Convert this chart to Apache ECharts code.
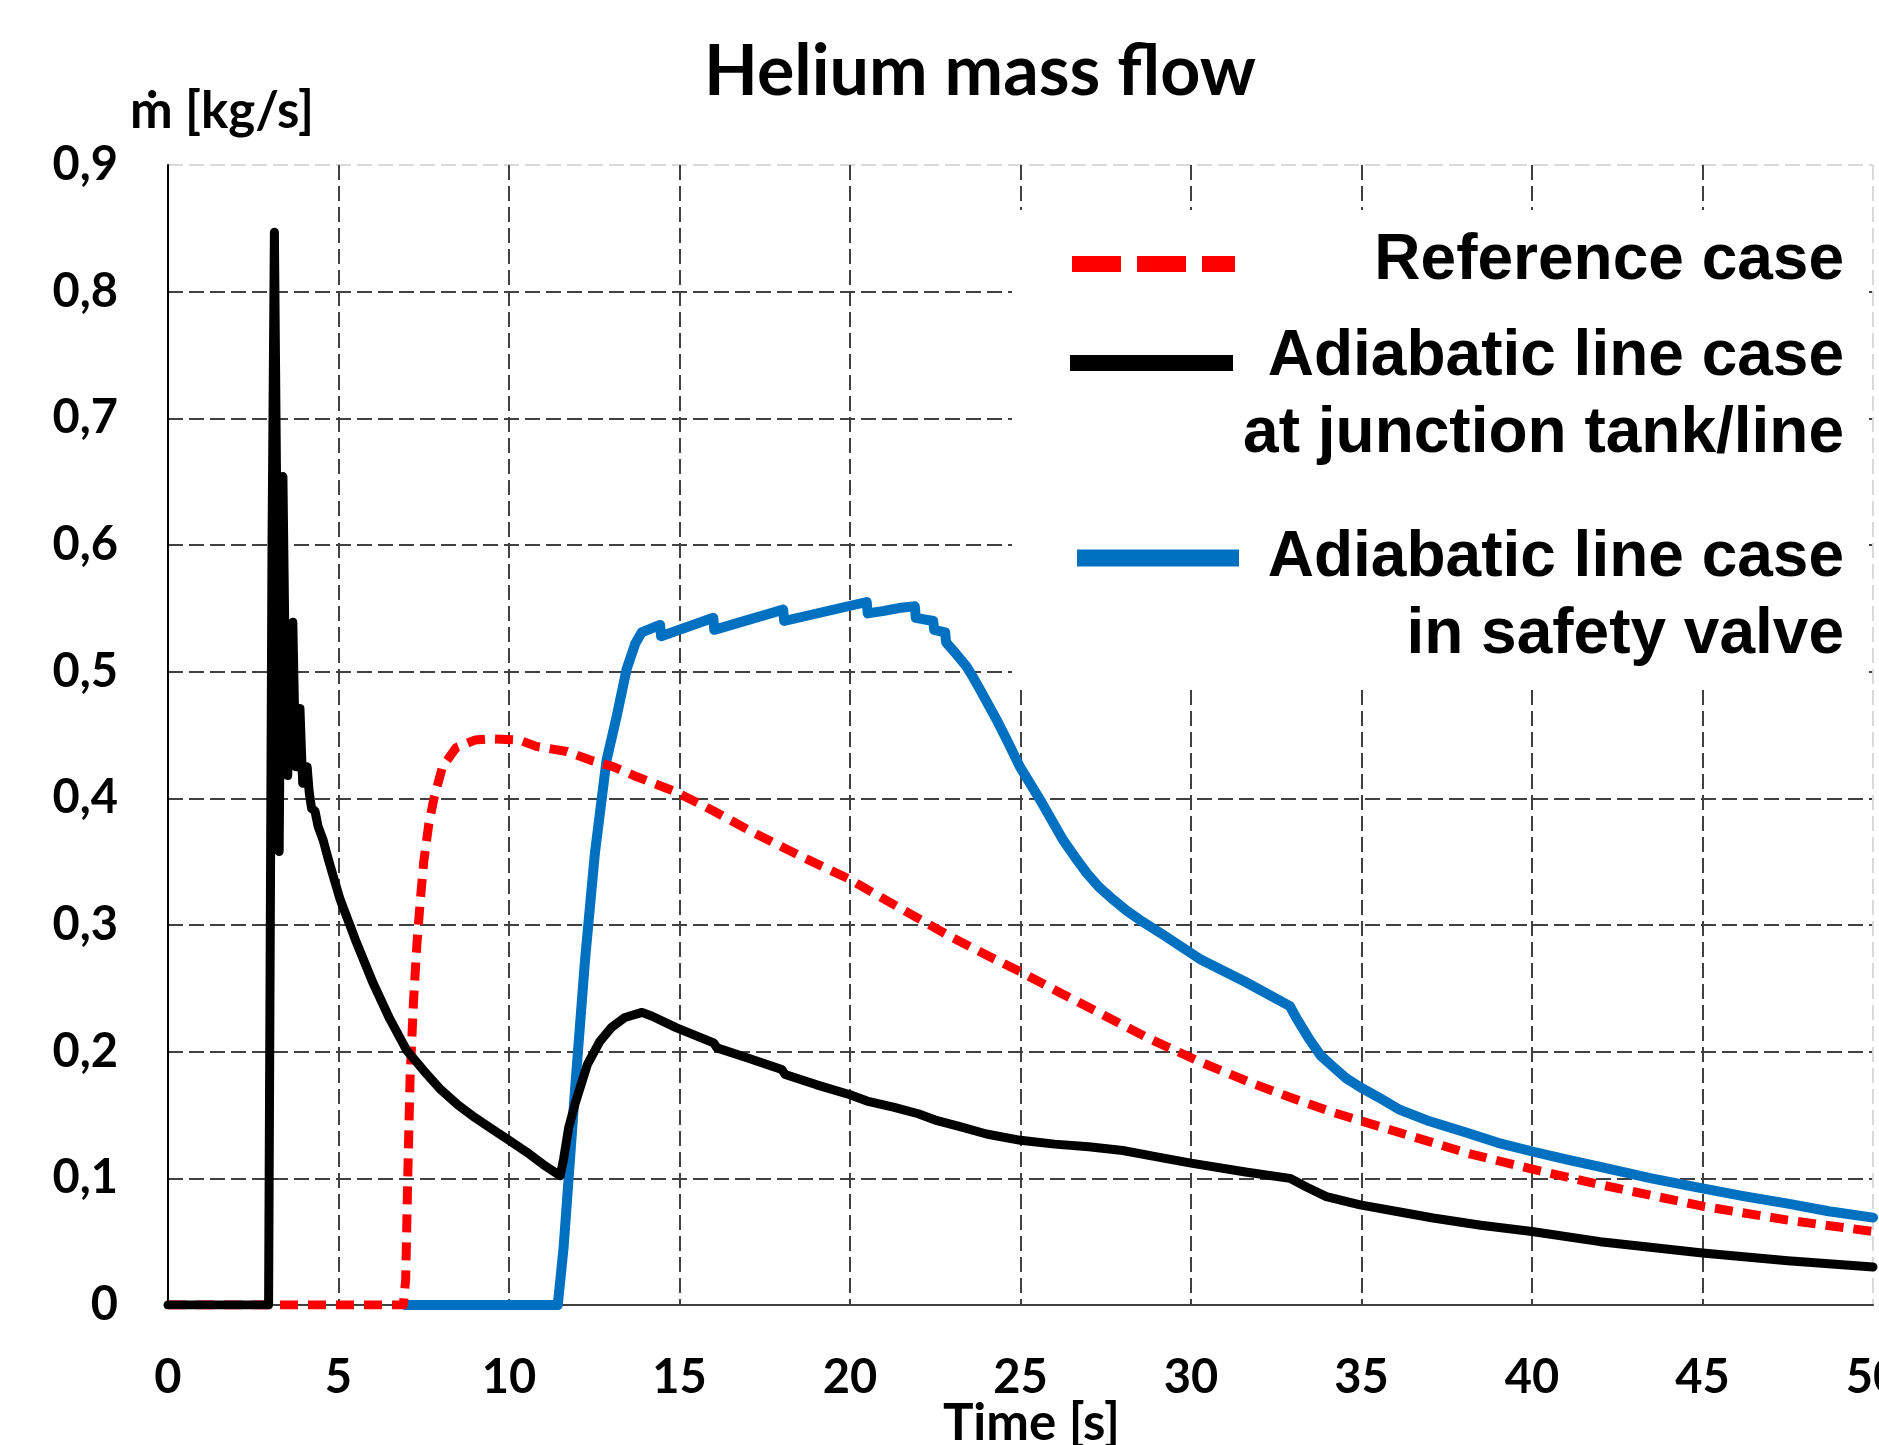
<!DOCTYPE html>
<html>
<head>
<meta charset="utf-8">
<script src="https://cdn.jsdelivr.net/npm/echarts@6/dist/echarts.min.js"></script>
<style>
html,body{margin:0;padding:0;background:#fff;}
#chart{width:1879px;height:1445px;}
</style>
</head>
<body>
<div id="chart"></div>
<script>
// ---- data (time [s], mass flow [kg/s]) ----
const seriesNames = ['Reference case', 'Adiabatic line case\nat junction tank/line', 'Adiabatic line case\nin safety valve'];
const yTickLabels = ['0','0,1','0,2','0,3','0,4','0,5','0,6','0,7','0,8','0,9'];
const xTickLabels = ['0','5','10','15','20','25','30','35','40','45','50'];

const referenceCase = [[0,0],[6.9,0],[6.97,0.02],[7.03,0.1],[7.1,0.18],[7.2,0.24],[7.3,0.285],[7.4,0.32],[7.5,0.35],[7.65,0.38],[7.8,0.40],[8.05,0.425],[8.45,0.44],[9.0,0.446],[9.5,0.447],[10.3,0.446],[10.8,0.441],[11.7,0.437],[12.4,0.430],[13.05,0.425],[13.75,0.417],[14.9,0.405],[16,0.39],[17.16,0.373],[18.5,0.355],[20,0.336],[20.9,0.322],[21.95,0.306],[23,0.29],[24.1,0.275],[25,0.263],[26.2,0.246],[27.5,0.228],[28.8,0.21],[30.26,0.192],[31.8,0.175],[33,0.163],[34.17,0.152],[36.13,0.136],[38.09,0.12],[40.04,0.107],[42,0.095],[45,0.078],[47.5,0.067],[50,0.058]];

const junctionCase = [[0,0],[2.95,0],[3.05,0.60],[3.12,0.847],[3.2,0.60],[3.26,0.358],[3.3,0.5],[3.37,0.654],[3.44,0.5],[3.51,0.418],[3.58,0.48],[3.66,0.539],[3.71,0.47],[3.75,0.425],[3.81,0.45],[3.87,0.471],[3.91,0.44],[3.95,0.412],[4.02,0.42],[4.08,0.425],[4.14,0.405],[4.21,0.392],[4.31,0.39],[4.4,0.378],[4.55,0.367],[4.7,0.352],[4.84,0.339],[5.05,0.32],[5.5,0.288],[6,0.255],[6.5,0.226],[7,0.201],[7.5,0.185],[8,0.17],[8.5,0.158],[9,0.148],[9.5,0.139],[10,0.13],[10.5,0.121],[11,0.111],[11.5,0.102],[11.6,0.115],[11.75,0.14],[11.95,0.16],[12.3,0.19],[12.66,0.208],[13.0,0.219],[13.4,0.227],[13.9,0.231],[14.2,0.228],[14.9,0.219],[16,0.207],[16.1,0.203],[17,0.195],[18,0.186],[18.1,0.182],[19,0.174],[20,0.166],[20.5,0.161],[21.3,0.156],[22,0.151],[22.5,0.146],[23.2,0.141],[24,0.135],[25,0.130],[26,0.127],[27,0.125],[28,0.122],[29,0.117],[30,0.112],[31.6,0.105],[32.9,0.100],[33.4,0.093],[33.97,0.0856],[34.96,0.079],[36,0.074],[37.1,0.0687],[38.5,0.063],[40,0.058],[42,0.050],[45,0.041],[47.5,0.035],[50,0.030]];

const safetyValveCase = [[6.95,0],[11.43,0],[11.6,0.045],[11.95,0.175],[12.23,0.2725],[12.52,0.357],[12.86,0.43],[13.16,0.465],[13.45,0.502],[13.7,0.522],[13.89,0.531],[14.43,0.537],[14.46,0.528],[15.99,0.5425],[16.02,0.533],[18.04,0.549],[18.07,0.540],[20.49,0.555],[20.52,0.546],[21.0,0.548],[21.5,0.5505],[21.9,0.5516],[21.93,0.5425],[22.44,0.540],[22.47,0.533],[22.79,0.531],[22.82,0.523],[23.08,0.515],[23.42,0.504],[23.6,0.496],[23.81,0.486],[24.3,0.462],[24.6,0.446],[24.98,0.425],[25.57,0.399],[26.25,0.367],[26.6,0.3535],[26.94,0.341],[27.3,0.330],[27.72,0.32],[28.1,0.3115],[28.5,0.304],[29.2,0.292],[30.3,0.2725],[31.6,0.255],[32.9,0.236],[33.1,0.226],[33.49,0.209],[33.8,0.197],[34.17,0.188],[34.55,0.179],[34.96,0.172],[35.5,0.164],[36.13,0.154],[37,0.145],[38.09,0.136],[39,0.128],[40.04,0.121],[41,0.115],[42,0.109],[43.5,0.100],[45,0.092],[46.2,0.086],[47.5,0.08],[48.7,0.074],[50,0.069]];

// ---- styling ----
const RED = '#FF0000', BLACK = '#000000', BLUE = '#0070C0';
const GRIDC = '#404040', LIGHT = '#d9d9d9';
const LBL = {fontFamily: 'Lato', fontWeight: 'bold', color: '#000'};
const LEG = {fontFamily: 'Liberation Sans', fontWeight: 'bold', fontSize: 64, fill: '#000', align: 'right', verticalAlign: 'middle'};

const chart = echarts.init(document.getElementById('chart'), null, {renderer: 'canvas'});

const xColors = xTickLabels.map((_, i) => i === xTickLabels.length - 1 ? LIGHT : GRIDC);
const yColors = yTickLabels.map((_, i) => i === yTickLabels.length - 1 ? LIGHT : GRIDC);

const legendItems = [
  {type: 'rect', shape: {x: 1012, y: 210, width: 854, height: 477}, style: {fill: '#fff'}},
  {type: 'line', shape: {x1: 1072, y1: 264, x2: 1235, y2: 264}, style: {stroke: RED, lineWidth: 16, lineDash: [49, 16]}},
  {type: 'line', shape: {x1: 1070, y1: 363, x2: 1233, y2: 363}, style: {stroke: BLACK, lineWidth: 16}},
  {type: 'line', shape: {x1: 1077, y1: 558, x2: 1239, y2: 558}, style: {stroke: BLUE, lineWidth: 17}},
  {type: 'text', style: Object.assign({x: 1844, y: 261, text: 'Reference case'}, LEG)},
  {type: 'text', style: Object.assign({x: 1844, y: 357, text: 'Adiabatic line case'}, LEG)},
  {type: 'text', style: Object.assign({x: 1844, y: 434, text: 'at junction tank/line'}, LEG)},
  {type: 'text', style: Object.assign({x: 1844, y: 558, text: 'Adiabatic line case'}, LEG)},
  {type: 'text', style: Object.assign({x: 1844, y: 635, text: 'in safety valve'}, LEG)}
].map(e => Object.assign({z: 100, zlevel: 0, silent: true}, e));

chart.setOption({
  animation: false,
  backgroundColor: '#fff',
  title: {
    text: 'Helium mass flow',
    left: 975, top: 32, textAlign: 'center',
    textStyle: Object.assign({fontSize: 70}, LBL)
  },
  grid: {left: 168, right: 6, top: 165, bottom: 140, containLabel: false, outerBoundsMode: 'none'},
  xAxis: {
    type: 'value', min: 0, max: 50, interval: 5,
    name: 'Time [s]', nameLocation: 'middle', nameGap: 93, nameMoveOverlap: false,
    nameTextStyle: Object.assign({fontSize: 51, padding: [0, 0, 0, 22]}, LBL),
    axisLine: {show: true, onZero: false, lineStyle: {color: GRIDC, width: 2}},
    axisTick: {show: false},
    axisLabel: Object.assign({fontSize: 47, margin: 49,
      formatter: v => xTickLabels[Math.round(v / 5)]}, LBL),
    splitLine: {show: true, lineStyle: {color: xColors, width: 2, type: [15, 6]}}
  },
  yAxis: {
    type: 'value', min: 0, max: 0.9, interval: 0.1,
    name: '\u1E41 [kg/s]', nameLocation: 'end', nameGap: 28, nameMoveOverlap: false,
    nameTextStyle: Object.assign({fontSize: 51, align: 'left', padding: [0, 0, 0, -38]}, LBL),
    axisLine: {show: true, lineStyle: {color: '#000', width: 2}},
    axisTick: {show: false},
    axisLabel: Object.assign({fontSize: 47, margin: 50,
      formatter: v => yTickLabels[Math.round(v * 10)]}, LBL),
    splitLine: {show: true, lineStyle: {color: yColors, width: 2, type: [15, 6]}}
  },
  series: [
    {name: seriesNames[2], type: 'line', data: safetyValveCase, showSymbol: false, z: 3,
      lineStyle: {color: BLUE, width: 10, cap: 'round', join: 'round'}},
    {name: seriesNames[0], type: 'line', data: referenceCase, showSymbol: false, z: 4,
      lineStyle: {color: RED, width: 9, type: [18, 10], cap: 'butt', join: 'round'}},
    {name: seriesNames[1], type: 'line', data: junctionCase, showSymbol: false, z: 5,
      lineStyle: {color: BLACK, width: 9, cap: 'round', join: 'round'}}
  ],
  graphic: legendItems
});
</script>
</body>
</html>
